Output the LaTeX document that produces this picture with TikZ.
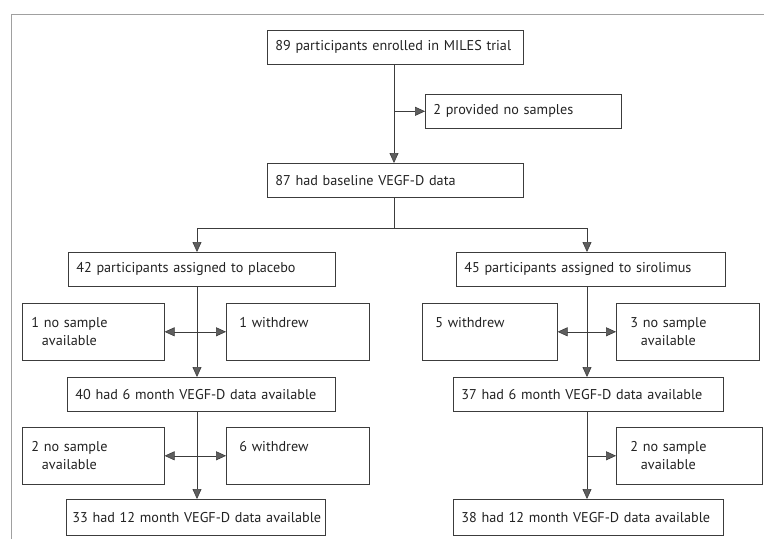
\documentclass[tikz,border=0pt]{standalone}
\usepackage{fontspec}
\setmainfont{PT Sans}
\usepackage{tikz}
\usetikzlibrary{arrows.meta}
\definecolor{linegray}{HTML}{3C3C3C}
\definecolor{tipgray}{HTML}{5E5E5E}
\definecolor{framegray}{HTML}{A0A0A0}
\definecolor{textgray}{HTML}{222222}
\newcommand{\stacked}[1]{\begin{tabular}[t]{@{}c@{}}#1\end{tabular}}

\begin{document}
\begin{tikzpicture}[x=1pt, y=-1pt,
    every node/.style={font=\fontsize{14.2}{18}\selectfont, text=textgray},
    flowbox/.style={draw=linegray, line width=.6pt, anchor=north west, align=left,
        inner xsep=8pt, inner ysep=0pt, minimum height=34pt},
    sidebox/.style={draw=linegray, line width=.6pt, anchor=north west, align=left,
        inner ysep=0pt, text height=24pt, text depth=33pt},
    flow/.style={draw=linegray, line width=.6pt},
    arrowto/.style={flow, -{Triangle[width=9pt,length=10pt,fill=tipgray]}},
    arrowboth/.style={flow, {Triangle[width=9pt,length=10pt,fill=tipgray]}-{Triangle[width=9pt,length=10pt,fill=tipgray]}}]
    \useasboundingbox (0,0) rectangle (764,539);
    % panel frame
    \draw[framegray, line width=.5pt] (11,539) -- (11,14) -- (764,14);
    % spines
    \coordinate (midx) at (394,0);
    \coordinate (leftx) at (197,0);
    \coordinate (rightx) at (587,0);
    \coordinate (split) at (394,228);
    % enrolment
    \node[flowbox, text width=240pt] (enrol) at (267,30) {89 participants enrolled in MILES trial};
    \node[flowbox, text width=180pt] (nosamp) at (425,94) {2 provided no samples};
    \node[flowbox, text width=240pt] (base) at (267,163) {87 had baseline VEGF-D data};
    % arms
    \node[flowbox, text width=251pt] (placebo) at (68,252) {42 participants assigned to placebo};
    \node[flowbox, text width=253pt] (siro) at (456,252) {45 participants assigned to sirolimus};
    % placebo arm
    \node[sidebox, inner xsep=9pt, text width=124pt] (plNoA) at (22,303) {\stacked{1 no sample\\available}};
    \node[sidebox, inner xsep=13pt, text width=117pt] (plWdA) at (226,303) {1 withdrew};
    \node[flowbox, text width=252pt] (plSix) at (67,377) {40 had 6 month VEGF-D data available};
    \node[sidebox, inner xsep=9pt, text width=124pt] (plNoB) at (22,427) {\stacked{2 no sample\\available}};
    \node[sidebox, inner xsep=13pt, text width=117pt] (plWdB) at (226,427) {6 withdrew};
    \node[flowbox, inner xsep=6pt, text width=247pt, minimum height=36pt] (plTwelve) at (66,499) {\mbox{33 had 12 month VEGF-D data available}};
    % sirolimus arm
    \node[sidebox, inner xsep=13pt, text width=109pt] (siWdA) at (422,303) {5 withdrew};
    \node[sidebox, inner xsep=14pt, text width=115pt] (siNoA) at (616,303) {\stacked{3 no sample\\available}};
    \node[flowbox, text width=254pt] (siSix) at (453,377) {37 had 6 month VEGF-D data available};
    \node[sidebox, inner xsep=14pt, text width=118pt] (siNoB) at (616,427) {\stacked{2 no sample\\available}};
    \node[flowbox, text width=254pt, minimum height=36pt] (siTwelve) at (453,499) {38 had 12 month VEGF-D data available};
    % connectors
    \draw[arrowto] (enrol.south -| midx) -- (base.north -| midx);
    \draw[arrowto] (midx |- nosamp.west) -- (nosamp.west);
    \draw[flow] (base.south -| midx) -- (split);
    \draw[arrowto] (split) -| (placebo.north -| leftx);
    \draw[arrowto] (split) -| (siro.north -| rightx);
    \draw[arrowto] (placebo.south -| leftx) -- (plSix.north -| leftx);
    \draw[arrowboth] (plNoA.east) -- (plWdA.west);
    \draw[arrowto] (plSix.south -| leftx) -- (plTwelve.north -| leftx);
    \draw[arrowboth] (plNoB.east) -- (plWdB.west);
    \draw[arrowto] (siro.south -| rightx) -- (siSix.north -| rightx);
    \draw[arrowboth] (siWdA.east) -- (siNoA.west);
    \draw[arrowto] (siSix.south -| rightx) -- (siTwelve.north -| rightx);
    \draw[arrowto] (rightx |- siNoB.west) -- (siNoB.west);
\end{tikzpicture}
\end{document}
